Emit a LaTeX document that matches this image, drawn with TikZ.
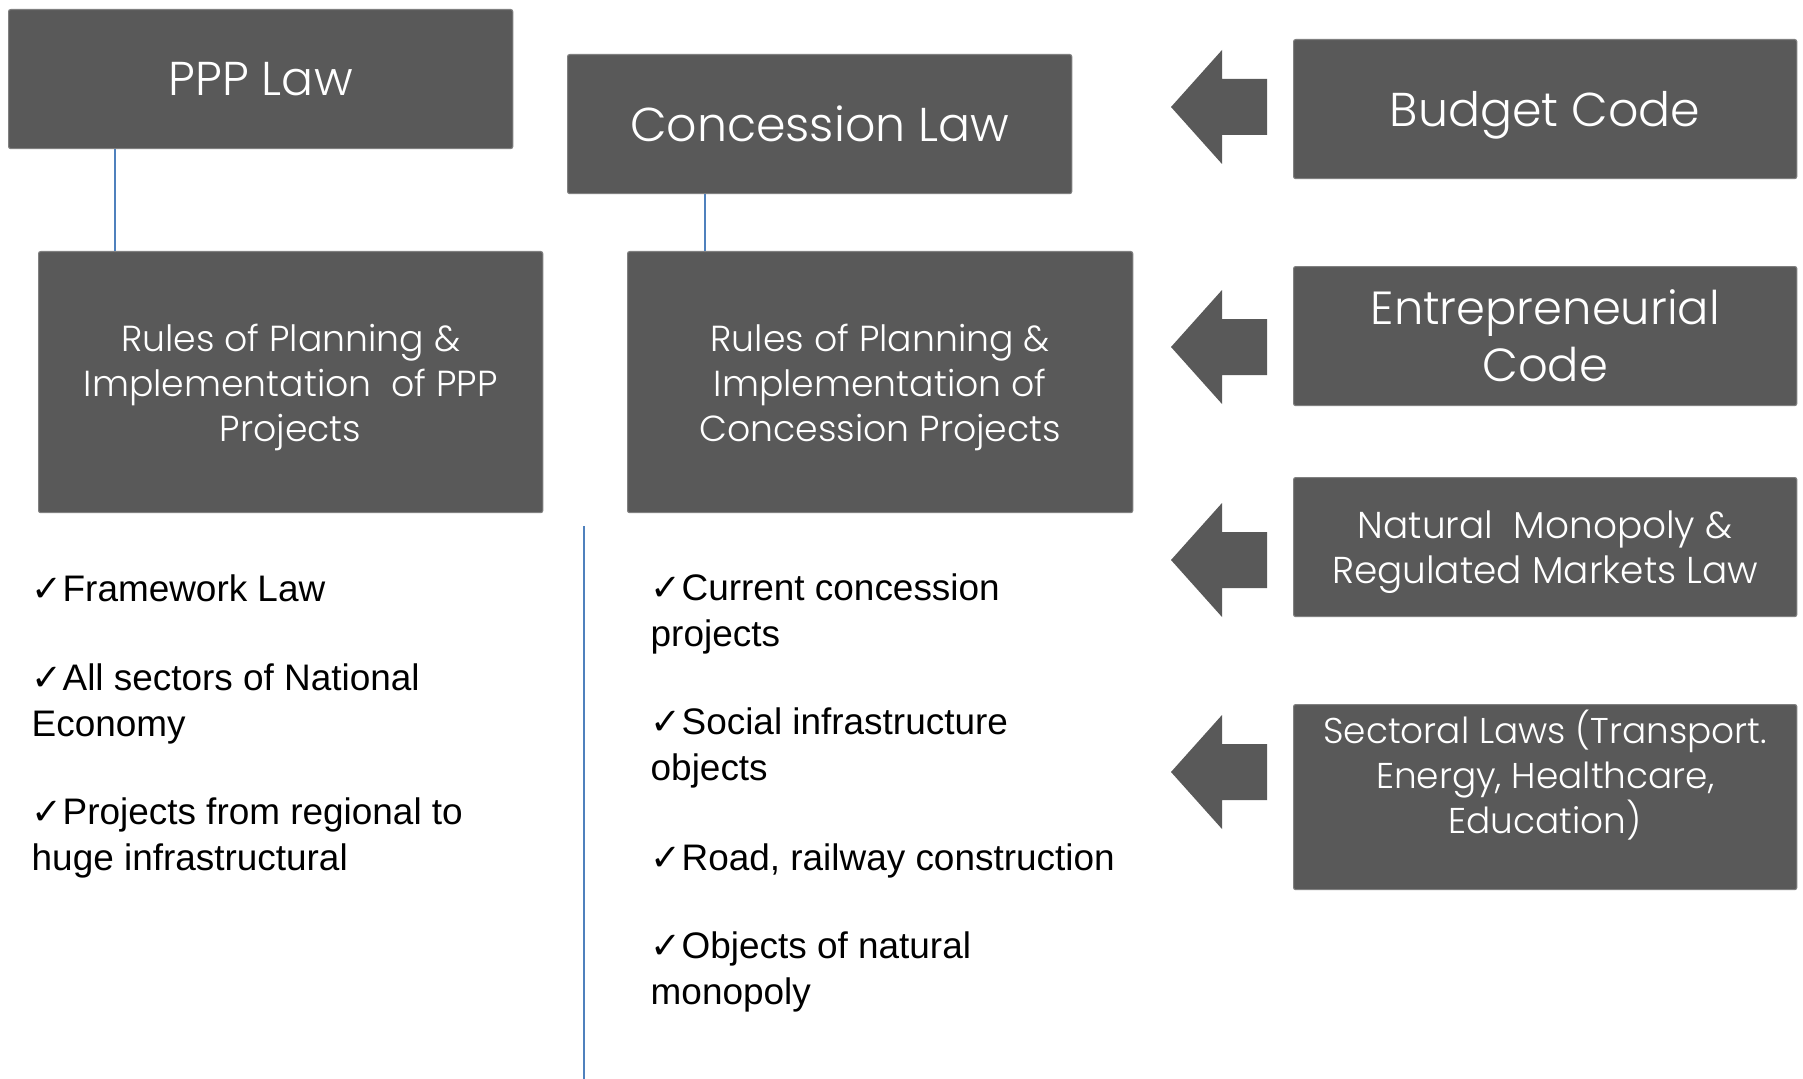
\documentclass[tikz,border=0pt]{standalone}
\usepackage{fontspec}
\setmainfont{Liberation Sans}
\IfFontExistsTF{Poppins Light}{\newfontfamily\gothic{Poppins Light}}{\newfontfamily\gothic{Poppins}}
\newfontfamily\symb{DejaVu Sans}
\usetikzlibrary{positioning}
\definecolor{boxgray}{RGB}{89,89,89}
\definecolor{linkblue}{RGB}{79,129,189}
\newcommand{\ticked}{{\symb ✓}}
\tikzset{
  lawbox/.style={fill=boxgray, draw={rgb,255:red,128;green,128;blue,128}, line width=0.3pt,
    rounded corners=0.6pt, text=white, align=center, anchor=north west, inner sep=0pt},
  bigtext/.style={font=\gothic\fontsize{#1}{16.2}\selectfont},
  bigtext/.default=13.5,
  smalltext/.style={text=white, align=center, inner sep=0pt, font=\gothic\fontsize{#1}{12.8}\selectfont},
  smalltext/.default=10.4,
  link/.style={linkblue, line width=0.6pt},
  item/.style={anchor=base west, align=left, inner sep=0pt, font=\fontsize{10.5}{12.8}\selectfont},
}
\begin{document}
\begin{tikzpicture}[x=0.01cm,y=-0.01cm]
  \useasboundingbox (0,0) rectangle (1803,1079);
  % laws on top
  \node[lawbox, bigtext, minimum width=5.04cm, minimum height=1.39cm] (ppp) at (8,9) {PPP Law};
  \node[lawbox, bigtext, minimum width=5.04cm, minimum height=1.39cm] (conc) at (567,54) {Concession Law};
  \node[lawbox, minimum width=5.04cm, minimum height=2.61cm] (rulesppp) at (38,251) {};
  \node[smalltext=10.3] (rulespptext) at ([yshift=-0.05cm]rulesppp.center)
    {Rules of Planning \&\\Implementation\ \ of PPP\\Projects};
  \node[lawbox, minimum width=5.05cm, minimum height=2.61cm] (rulesconc) at (627,251) {};
  \node[smalltext=10.3] (rulesconctext) at ([yshift=-0.05cm]rulesconc.center)
    {Rules of Planning \&\\Implementation of\\Concession Projects};
  \draw[link] ([xshift=1.07cm]ppp.south west) -- ([xshift=1.07cm]ppp.south west |- rulesppp.north);
  \draw[link] ([xshift=1.38cm]conc.south west) -- ([xshift=1.38cm]conc.south west |- rulesconc.north);
  % other codes on the right
  \node[lawbox, bigtext, text depth=0pt, minimum width=5.03cm, minimum height=1.39cm] (budget) at (1293,39) {Budget Code};
  \node[lawbox, bigtext=13.2, minimum width=5.03cm, minimum height=1.39cm] (entre) at (1293,266) {Entrepreneurial\\Code};
  \node[lawbox, minimum width=5.03cm, minimum height=1.39cm] (natmono) at (1293,477) {};
  \node[smalltext=10.65] (natmonotext) at ([yshift=-0.05cm]natmono.center)
    {Natural\ \ Monopoly \&\\Regulated Markets Law};
  \node[lawbox, minimum width=5.03cm, minimum height=1.85cm] (sectoral) at (1293,704) {};
  \node[smalltext=10.2] (sectext) at ([yshift=0.22cm]sectoral.center)
    {Sectoral Laws (Transport.\\Energy, Healthcare,\\Education)};
  \foreach \ay in {107,347,560,772}
    \fill[boxgray] (1171,\ay) -- (1222,\ay-57) -- (1222,\ay-28) -- (1267,\ay-28)
      -- (1267,\ay+28) -- (1222,\ay+28) -- (1222,\ay+57) -- cycle;
  % divider
  \coordinate (divtop) at (584,526);
  \coordinate (divbot) at (584,1079);
  \draw[link] (divtop) -- (divbot);
  % lists (base = last line)
  \node[item] (fw) at (31,601) {\ticked Framework Law};
  \node[item] (allsec) at (31,736) {\ticked All sectors of National\\Economy};
  \node[item] (proj) at (31,870) {\ticked Projects from regional to\\huge infrastructural};
  \node[item] (curr) at (650,646) {\ticked Current concession\\projects};
  \node[item] (social) at (650,780) {\ticked Social infrastructure\\objects};
  \node[item] (road) at (650,870) {\ticked Road, railway construction};
  \node[item] (natobj) at (650,1004) {\ticked Objects of natural\\monopoly};
\end{tikzpicture}
\end{document}
